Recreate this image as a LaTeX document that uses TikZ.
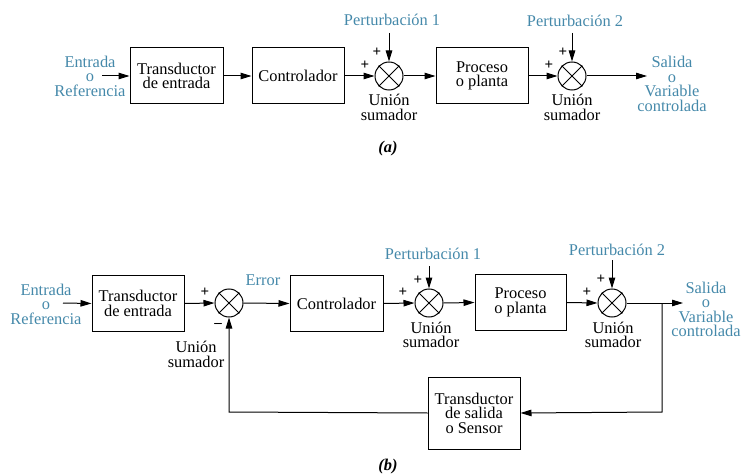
\documentclass[tikz,border=0pt]{standalone}
\usepackage{fontspec}
\setmainfont{Liberation Serif}
\newfontfamily\tnr{Liberation Serif}
\usetikzlibrary{arrows.meta}
\definecolor{lbl}{HTML}{4589AA}
\begin{document}
\begin{tikzpicture}[x=1pt,y=-1pt,
  every node/.style={font=\tnr\fontsize{16.4}{14.5}\selectfont},
  blk/.style={draw, line width=1pt, minimum width=92pt, minimum height=56pt, align=center, inner sep=0pt},
  sumj/.style={draw, circle, line width=1pt, minimum size=28pt, inner sep=0pt},
  lbltext/.style={text=lbl, align=center, inner sep=0pt},
  blktext/.style={align=center, inner sep=0pt},
  sgn/.style={inner sep=0pt, font=\tnr\fontsize{15}{15}\selectfont\bfseries},
  arr/.style={-{Triangle[length=11pt,width=6.5pt]}, line width=1pt},
  ln/.style={line width=1pt},
  captext/.style={inner sep=0pt, font=\tnr\fontsize{16.4}{16}\selectfont\bfseries\itshape}
]
\useasboundingbox (0,0) rectangle (742,476);

% ---------- (a) ----------
\node[lbltext] (ina) at (90,76) {Entrada\\o\\Referencia};
\coordinate (ina0) at (102,76);
\node[blk, minimum width=93pt] (ta) at (176.5,76) {Transductor\\de entrada};
\node[blk] (ca) at (298,76) {Controlador};
\node[sumj] (a1) at (389,76) {};
\node[blk] (pa) at (482,76) {Proceso\\o planta};
\node[sumj] (a2) at (572,76) {};
\coordinate (outa) at (647,76);
\node[lbltext] (sala) at (672,84) {Salida\\o\\Variable\\controlada};
\node[lbltext] (pert1a) at (392,20) {Perturbación 1};
\node[lbltext] (pert2a) at (575,21) {Perturbación 2};
\coordinate (pa1) at (389,33);
\coordinate (pa2) at (572,33);
\node[blktext] (ua1) at (389,107.5) {Unión\\sumador};
\node[blktext] (ua2) at (572,107.5) {Unión\\sumador};
\node[sgn] (pa1l) at (365,65) {+};
\node[sgn] (pa1t) at (377,52) {+};
\node[sgn] (pa2l) at (549,65) {+};
\node[sgn] (pa2t) at (563,52) {+};
\node[captext] (capa) at (388,149) {(a)};

\draw[arr] (ina0) -- (ta.west);
\draw[arr] (ta.east) -- (ca.west);
\draw[arr] (ca.east) -- (a1.west);
\draw[arr] (a1.east) -- (pa.west);
\draw[arr] (pa.east) -- (a2.west);
\draw[arr] (a2.east) -- (outa);
\draw[arr] (pa1) -- (a1.north);
\draw[arr] (pa2) -- (a2.north);

% ---------- (b) ----------
\node[lbltext] (inb) at (46,304) {Entrada\\o\\Referencia};
\coordinate (inb0) at (63,303);
\node[blk] (tb) at (138,303.5) {Transductor\\de entrada};
\node[sumj] (b0) at (229,303) {};
\node[lbltext] (err) at (263,280) {Error};
\node[blk, minimum width=93pt] (cb) at (336.5,303.5) {Controlador};
\node[sumj] (b1) at (429,303) {};
\node[blk, minimum width=91pt] (pb) at (520.5,302.5) {Proceso\\o planta};
\node[sumj] (b2) at (612,303) {};
\coordinate (jb) at (662,303);
\coordinate (outb) at (683,303);
\node[lbltext] (salbt) at (706,309.5) {Salida\\o\\Variable\\controlada};
\node[lbltext] (pert1b) at (433,254) {Perturbación 1};
\node[lbltext] (pert2b) at (617,250) {Perturbación 2};
\coordinate (pb1) at (429,266);
\coordinate (pb2) at (612,260);
\node[blktext] (ub0) at (196,354.5) {Unión\\sumador};
\node[blktext] (ub1) at (431,335) {Unión\\sumador};
\node[blktext] (ub2) at (613,335) {Unión\\sumador};
\node[sgn] (pb0l) at (205,292) {+};
\node[sgn] (pb0b) at (218,325) {\textendash};
\node[sgn] (pb1l) at (403,292) {+};
\node[sgn] (pb1t) at (418,280) {+};
\node[sgn] (pb2l) at (587,292) {+};
\node[sgn] (pb2t) at (601,279) {+};
\node[blk, minimum height=72pt] (sens) at (474,413) {Transductor\\de salida\\o Sensor};
\coordinate (fb1) at (662,412);
\coordinate (fb2) at (229,412);
\node[captext] (capb) at (388,467) {(b)};

\draw[arr] (inb0) -- (tb.west);
\draw[arr] (tb.east) -- (b0.west);
\draw[arr] (b0.east) -- (cb.west);
\draw[arr] (cb.east) -- (b1.west);
\draw[arr] (b1.east) -- (pb.west);
\draw[arr] (pb.east) -- (b2.west);
\draw[arr] (b2.east) -- (outb);
\draw[arr] (pb1) -- (b1.north);
\draw[arr] (pb2) -- (b2.north);
\draw[arr] (jb) -- (fb1) -- (sens.east);
\draw[arr] (sens.west) -- (fb2) -- (b0.south);

\foreach \s in {a1,a2,b0,b1,b2}
  \draw[ln] (\s.north east) -- (\s.south west) (\s.north west) -- (\s.south east);
\end{tikzpicture}
\end{document}
